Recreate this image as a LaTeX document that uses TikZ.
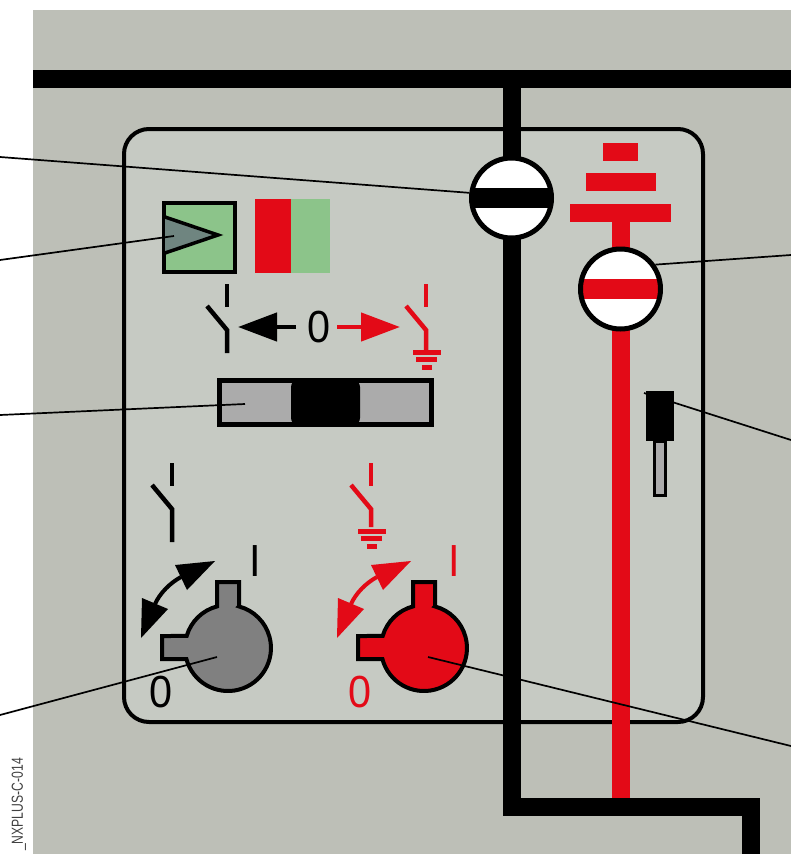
\documentclass[tikz,border=0pt]{standalone}
\usepackage{xcolor}
\usepackage{fontspec}
\setmainfont{Liberation Sans}
\newfontfamily\narrowfont[FakeStretch=0.76]{Liberation Sans}
\newfontfamily\zerofont[FakeStretch=0.92]{Liberation Sans}
\usetikzlibrary{arrows.meta,positioning,calc}
\definecolor{cabinetgray}{HTML}{BDBFB7}
\definecolor{panelgray}{HTML}{C6CAC3}
\definecolor{signalred}{HTML}{E30A17}
\definecolor{lampgreen}{HTML}{8CC48A}
\definecolor{slidergray}{HTML}{ABABAB}
\definecolor{knobgray}{HTML}{808080}
\definecolor{flaggray}{HTML}{6F8580}
\tikzset{
 busline/.style={line width=18pt,miter limit=10},
 leader/.style={line width=1.7pt},
 contact/.style={line width=4.5pt},
 bigtext/.style={font=\zerofont\fontsize{45}{45}\selectfont,inner sep=0pt},
 block/.style={inner sep=0pt,outer sep=0pt,minimum width=#1},
 sightglass/.style={circle,draw=black,line width=5pt,fill=white,inner sep=0pt,minimum size=80pt},
 flatarrow/.style={line width=4.5pt,-{Triangle[length=39pt,width=28pt]}},
}
\begin{document}
\begin{tikzpicture}[x=1pt,y=1pt]
\useasboundingbox (0,-854) rectangle (791,0);
\fill[cabinetgray] (33,-10) rectangle (791,-854);
\draw[line width=4pt,fill=panelgray,rounded corners=25pt] (124,-129) rectangle (703,-722);
% busbar and feeder
\coordinate (busleft) at (33,-79);
\coordinate (busright) at (791,-79);
\coordinate (busdrop) at (511.5,-79);
\coordinate (busfoot) at (511.5,-807);
\coordinate (buscorner) at (751,-807);
\coordinate (busend) at (751,-854);
\draw[busline] (busleft) -- (busright);
\draw[busline] (busdrop) -- (busfoot) -- (buscorner) -- (busend);
% earth side
\foreach \name/\ypos/\wid in {earthtop/152/35,earthmid/182/70,earthbase/213/101}{
 \node[block=\wid pt,minimum height=18pt,fill=signalred] (\name) at (620.5,-\ypos) {};
}
\coordinate (earthfoot) at (620.5,-798);
\draw[busline,signalred] (earthbase.south) -- (earthfoot);
\node[sightglass,path picture={\fill[black] ($(path picture bounding box.west)+(0,10)$) rectangle ($(path picture bounding box.east)+(0,-10)$);}] (busglass) at (511.5,-198) {};
\node[sightglass,path picture={\fill[signalred] ($(path picture bounding box.west)+(0,10)$) rectangle ($(path picture bounding box.east)+(0,-10)$);}] (earthglass) at (620.5,-289) {};
% key socket
\node[block=11pt,minimum height=54pt,draw=black,line width=3pt,fill=slidergray] (keyshaft) at (660,-468) {};
\node[block=28pt,minimum height=50pt,fill=black] (keyhead) at (660,-416) {};
% indicator
\node[block=71pt,minimum height=69pt,draw=black,line width=3.5pt,fill=lampgreen] (lamp) at (199.5,-237.5) {};
\draw[line width=3.5pt,fill=flaggray,miter limit=10] (165,-217) -- (218,-235) -- (165,-253);
\node[block=36pt,minimum height=74pt,fill=signalred] (redfield) at (273,-236) {};
\node[block=39pt,minimum height=74pt,fill=lampgreen,right=0pt of redfield] (greenfield) {};
% switch symbols
\foreach \xpos/\ypos/\col/\len in {227/284/black/69,426/284/signalred/66,172/463/black/79,371/463/signalred/64}{
 \draw[contact,\col] (\xpos,-\ypos) -- ++(0,-23);
 \draw[contact,\col] (\xpos-20,-\ypos-22) -- (\xpos,-\ypos-46) -- (\xpos,-\ypos-\len);
}
\foreach \xpos/\ypos in {426/352.5,371/531.5}{
 \foreach \dy/\wid in {0/28,7/21,14.5/10}{
  \fill[signalred] (\xpos+0.5-\wid/2,-\ypos-\dy+2.5) rectangle ++(\wid,-5);
 }
}
\node[bigtext] (midzero) at (319,-327) {0};
\coordinate (blackstart) at (296,-327);
\coordinate (blacktip) at (238,-327);
\coordinate (redstart) at (337,-327);
\coordinate (redtip) at (400,-327);
\draw[flatarrow] (blackstart) -- (blacktip);
\draw[flatarrow,signalred] (redstart) -- (redtip);
% slider
\node[block=212pt,minimum height=44pt,draw=black,line width=4.5pt,fill=slidergray] (slider) at (325.5,-402.5) {};
\node[block=69pt,minimum height=45pt,fill=black,rounded corners=7pt] (sliderknob) at (325.5,-402.5) {};
% knobs
\foreach \name/\kx/\col/\labcol/\lx in {grayknob/228/knobgray/black/0,redknob/424/signalred/signalred/3}{
 \draw[line width=4pt,fill=\col] (\kx+11,-606.4) -- (\kx+11,-582) -- (\kx-11,-582) -- (\kx-11,-606.4)
   arc (104.8:163.8:43) -- (\kx-66,-636) -- (\kx-66,-659) -- (\kx-41.6,-659) arc (194.8:435.2:43) -- cycle;
 \coordinate (\name) at (\kx,-648);
 \draw[line width=4pt,\labcol] (\kx-73,-604) .. controls (\kx-68,-593) and (\kx-58,-583) .. (\kx-47,-577);
 \fill[\labcol] (\kx-13,-561) -- (\kx-53,-565) -- (\kx-41,-590) -- cycle;
 \fill[\labcol] (\kx-87,-638) -- (\kx-86,-598) -- (\kx-60,-609) -- cycle;
 \node[bigtext,text=\labcol] (\name one) at (\kx+27+\lx,-561) {I};
 \node[bigtext,text=\labcol] (\name zero) at (\kx-67+\lx,-692) {0};
}
% leaders
\coordinate (fromglass) at (0,-157);
\coordinate (fromlamp) at (0,-260);
\coordinate (fromslider) at (0,-415);
\coordinate (fromknob) at (0,-715);
\coordinate (toearthglass) at (791,-255);
\coordinate (tokey) at (791,-440);
\coordinate (toredknob) at (791,-746);
\coordinate (lampend) at (174,-236);
\coordinate (sliderend) at (245,-404);
\coordinate (grayend) at (217,-657);
\coordinate (redend) at (428,-657);
\coordinate (keyend) at (644,-393);
\draw[leader] (fromglass) -- (busglass.173);
\draw[leader] (fromlamp) -- (lampend);
\draw[leader] (fromslider) -- (sliderend);
\draw[leader] (fromknob) -- (grayend);
\draw[leader] (toearthglass) -- (earthglass.35);
\draw[leader] (tokey) -- (keyend);
\draw[leader] (toredknob) -- (redend);
\node[rotate=90,anchor=east,inner sep=0pt,font=\narrowfont\fontsize{16}{16}\selectfont,text=black!75] (drawingno) at (19,-758) {\_NXPLUS-C-014};
\end{tikzpicture}
\end{document}
